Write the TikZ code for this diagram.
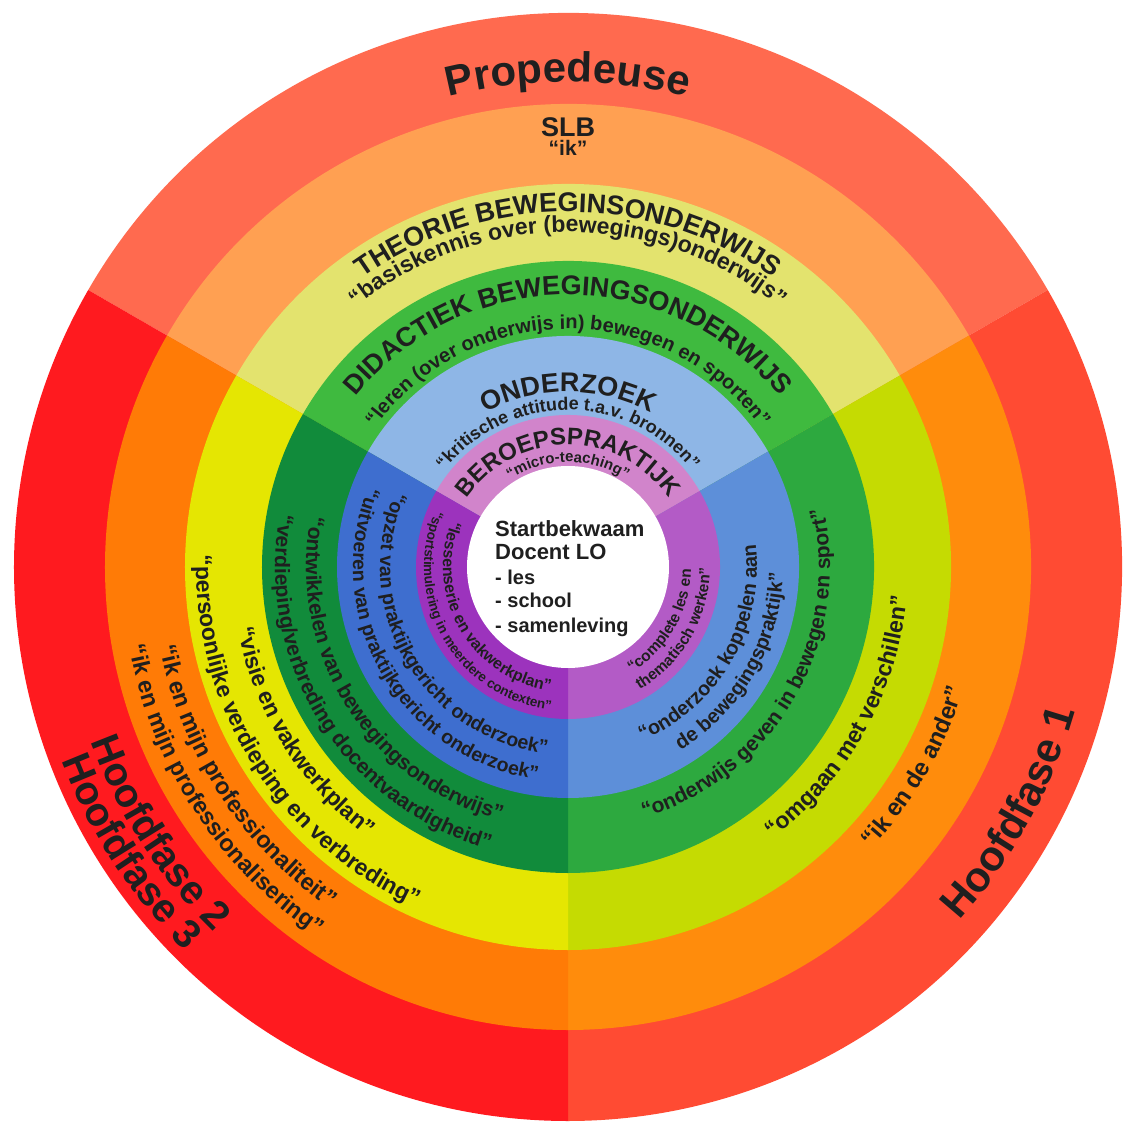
\documentclass[tikz,border=0pt]{standalone}
\usepackage{fontspec}
\setmainfont{Liberation Sans}
\usetikzlibrary{decorations.text}
\definecolor{txt}{HTML}{1F1F1F}
\definecolor{topA}{HTML}{FF6A4F}
\definecolor{topB}{HTML}{FFA052}
\definecolor{topC}{HTML}{E3E36E}
\definecolor{topD}{HTML}{3FBA3F}
\definecolor{topE}{HTML}{8EB6E6}
\definecolor{topF}{HTML}{D184CB}
\definecolor{rgtA}{HTML}{FF4B33}
\definecolor{rgtB}{HTML}{FF8C0C}
\definecolor{rgtC}{HTML}{C5DB02}
\definecolor{rgtD}{HTML}{2DA93F}
\definecolor{rgtE}{HTML}{5D8FD9}
\definecolor{rgtF}{HTML}{B35BC6}
\definecolor{lftA}{HTML}{FF1A1F}
\definecolor{lftB}{HTML}{FF7B06}
\definecolor{lftC}{HTML}{E5E602}
\definecolor{lftD}{HTML}{118B3B}
\definecolor{lftE}{HTML}{3E6ECF}
\definecolor{lftF}{HTML}{9C33BD}
\newcommand\toparc[3]{%
  \path[decorate,decoration={text along path,text align=center,text color=txt,
    text={|\fontsize{#2}{#2}\selectfont\bfseries|#3}}]
    (175:#1pt) arc[start angle=175,end angle=5,radius=#1pt];}
\newcommand\lowarc[4]{%
  \pgfmathsetmacro\sA{#1-75}\pgfmathsetmacro\eA{#1+75}%
  \path[decorate,decoration={text along path,text align=center,text color=txt,
    text={|\fontsize{#3}{#3}\selectfont\bfseries|#4}}]
    (\sA:#2pt) arc[start angle=\sA,end angle=\eA,radius=#2pt];}
\tikzset{ctext/.style={anchor=base west,text=txt,inner sep=0pt}}
\begin{document}
\begin{tikzpicture}
\useasboundingbox (-568pt,-557pt) rectangle (556pt,567pt);
\fill[white] (-568pt,-557pt) rectangle (556pt,567pt);
\foreach \rad/\ct/\cr/\cl in {554/topA/rgtA/lftA,463/topB/rgtB/lftB,383/topC/rgtC/lftC,306/topD/rgtD/lftD,231/topE/rgtE/lftE,152/topF/rgtF/lftF}{
  \fill[\ct] (0,0) -- (150:\rad pt) arc[start angle=150,end angle=30,radius=\rad pt] -- cycle;
  \fill[\cr] (0,0) -- (30:\rad pt) arc[start angle=30,end angle=-90,radius=\rad pt] -- cycle;
  \fill[\cl] (0,0) -- (270:\rad pt) arc[start angle=270,end angle=150,radius=\rad pt] -- cycle;
}
\fill[white] (0,0) circle[radius=101pt];
% top sector
\toparc{485}{42}{Propedeuse}
\node[anchor=base,text=txt,font=\fontsize{27}{27}\selectfont\bfseries] (slb) at (0,430pt) {SLB};
\node[anchor=base,text=txt,font=\fontsize{21}{21}\selectfont\bfseries] (ik) at (0,411pt) {“ik”};
\toparc{355}{27}{THEORIE BEWEGINSONDERWIJS}
\toparc{335}{23}{“basiskennis over (bewegings)onderwijs”}
\toparc{272}{27}{DIDACTIEK BEWEGINGSONDERWIJS}
\toparc{238}{20}{“leren (over onderwijs in) bewegen en sporten”}
\toparc{175}{27}{ONDERZOEK}
\toparc{157}{18}{“kritische attitude t.a.v. bronnen”}
\toparc{122}{24}{BEROEPSPRAKTIJK}
\toparc{105}{15}{“micro-teaching”}
% right sector
\lowarc{-30}{123}{15.5}{“complete les en}
\lowarc{-30}{142}{15.5}{thematisch werken”}
\lowarc{-30}{189}{20}{“onderzoek koppelen aan}
\lowarc{-30}{215}{20}{de bewegingspraktijk”}
\lowarc{-30}{262}{21}{“onderwijs geven in bewegen en sport”}
\lowarc{-29}{340}{23}{“omgaan met verschillen”}
\lowarc{-30}{414}{24}{“ik en de ander”}
\lowarc{-29}{527}{42}{Hoofdfase 1}
% left sector
\lowarc{210}{125}{16}{“lessenserie en vakwerkplan”}
\lowarc{210}{144}{13.5}{“sportstimulering in meerdere contexten”}
\lowarc{210}{188}{19.5}{“opzet van praktijkgericht onderzoek”}
\lowarc{210}{215}{19.5}{“uitvoeren van praktijkgericht onderzoek”}
\lowarc{212}{262}{21}{“ontwikkelen van bewegingsonderwijs”}
\lowarc{212}{293}{21}{“verdieping/verbreding docentvaardigheid”}
\lowarc{212}{336}{23}{“visie en vakwerkplan”}
\lowarc{212}{372}{23}{“persoonlijke verdieping en verbreding”}
\lowarc{213}{416}{23.5}{“ik en mijn professionaliteit”}
\lowarc{213}{446}{23.5}{“ik en mijn professionalisering”}
\lowarc{213}{508}{40}{Hoofdfase 2}
\lowarc{213}{542}{40}{Hoofdfase 3}
% centre
\node[ctext,font=\fontsize{22}{22}\selectfont\bfseries] (l1) at (-73pt,30pt) {Startbekwaam};
\node[ctext,font=\fontsize{22}{22}\selectfont\bfseries] (l2) at (-73pt,7pt) {Docent LO};
\node[ctext,font=\fontsize{20}{20}\selectfont\bfseries] (l3) at (-73pt,-18pt) {- les};
\node[ctext,font=\fontsize{20}{20}\selectfont\bfseries] (l4) at (-73pt,-41pt) {- school};
\node[ctext,font=\fontsize{20}{20}\selectfont\bfseries] (l5) at (-73pt,-65pt) {- samenleving};
\end{tikzpicture}
\end{document}
